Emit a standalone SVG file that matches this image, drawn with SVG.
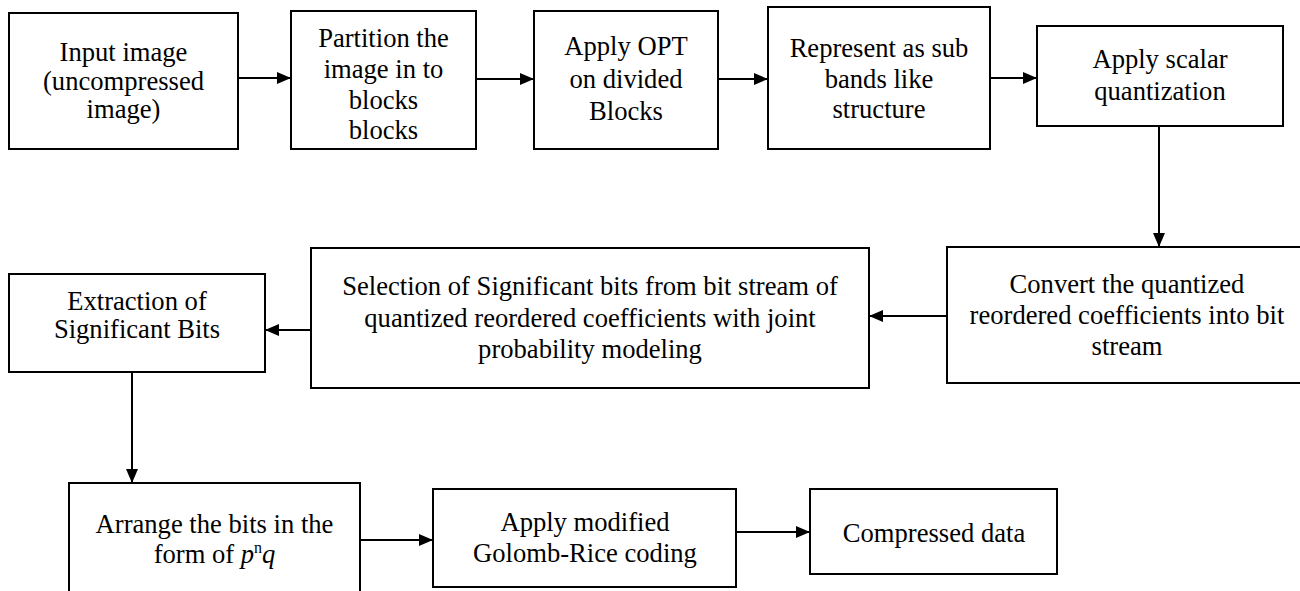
<svg xmlns="http://www.w3.org/2000/svg" width="1300" height="591" viewBox="0 0 1300 591">
<style>
.box{fill:#fff;stroke:#000;stroke-width:2}
.lbl{font-family:'Liberation Serif','DejaVu Serif',serif;font-size:26.6px;fill:#000;text-anchor:middle}
.edge{fill:none;stroke:#000;stroke-width:2}
</style>
<defs>
<marker id="ah" viewBox="0 0 14 12" refX="14" refY="6" markerWidth="14" markerHeight="12" markerUnits="userSpaceOnUse" orient="auto">
<path d="M0,0 L14,6 L0,12 z" fill="#000"/>
</marker>
</defs>
<rect width="1300" height="591" fill="#fff"/>
<g id="n1"><rect class="box" x="9" y="13" width="229" height="136"/>
<text class="lbl" x="123.5" y="61">Input image</text><text class="lbl" x="123.5" y="90">(uncompressed</text><text class="lbl" x="123.5" y="118">image)</text></g>
<g id="n2"><rect class="box" x="291" y="11" width="185" height="138"/>
<text class="lbl" x="383.5" y="47">Partition the</text><text class="lbl" x="383.5" y="78">image in to</text><text class="lbl" x="383.5" y="109">blocks</text><text class="lbl" x="383.5" y="139">blocks</text></g>
<g id="n3"><rect class="box" x="534" y="11" width="184" height="138"/>
<text class="lbl" x="626" y="55">Apply OPT</text><text class="lbl" x="626" y="88">on divided</text><text class="lbl" x="626" y="120">Blocks</text></g>
<g id="n4"><rect class="box" x="768" y="7" width="222" height="142"/>
<text class="lbl" x="879" y="57">Represent as sub</text><text class="lbl" x="879" y="88">bands like</text><text class="lbl" x="879" y="118">structure</text></g>
<g id="n5"><rect class="box" x="1037" y="26" width="246" height="100"/>
<text class="lbl" x="1160" y="68">Apply scalar</text><text class="lbl" x="1160" y="100">quantization</text></g>
<g id="n6"><rect class="box" x="947" y="247" width="362" height="136"/>
<text class="lbl" x="1127" y="293">Convert the quantized</text><text class="lbl" x="1127" y="324">reordered coefficients into bit</text><text class="lbl" x="1127" y="355">stream</text></g>
<g id="n7"><rect class="box" x="311" y="248" width="558" height="140"/>
<text class="lbl" x="590" y="295">Selection of Significant bits from bit stream of</text><text class="lbl" x="590" y="327">quantized reordered coefficients with joint</text><text class="lbl" x="590" y="358">probability modeling</text></g>
<g id="n8"><rect class="box" x="9" y="274" width="256" height="98"/>
<text class="lbl" x="137" y="310">Extraction of</text><text class="lbl" x="137" y="338">Significant Bits</text></g>
<g id="n9"><rect class="box" x="69" y="483" width="291" height="120"/>
<text class="lbl" x="214.5" y="533">Arrange the bits in the</text><text class="lbl" x="214.5" y="563">form of <tspan font-style="italic">p</tspan><tspan font-size="16" dy="-10">n</tspan><tspan font-style="italic" dy="10">q</tspan></text></g>
<g id="n10"><rect class="box" x="433" y="489" width="303" height="98"/>
<text class="lbl" x="585" y="531">Apply modified</text><text class="lbl" x="585" y="562">Golomb-Rice coding</text></g>
<g id="n11"><rect class="box" x="810" y="489" width="247" height="85"/>
<text class="lbl" x="934" y="542">Compressed data</text></g>
<g id="edges">
<path class="edge" d="M238,78 H291" marker-end="url(#ah)"/>
<path class="edge" d="M476,79 H534" marker-end="url(#ah)"/>
<path class="edge" d="M718,79 H768" marker-end="url(#ah)"/>
<path class="edge" d="M990,78 H1037" marker-end="url(#ah)"/>
<path class="edge" d="M1159,126 V247" marker-end="url(#ah)"/>
<path class="edge" d="M947,316 H869" marker-end="url(#ah)"/>
<path class="edge" d="M311,330 H265" marker-end="url(#ah)"/>
<path class="edge" d="M132,372 V483" marker-end="url(#ah)"/>
<path class="edge" d="M360,540 H433" marker-end="url(#ah)"/>
<path class="edge" d="M736,532 H810" marker-end="url(#ah)"/>
</g>
</svg>
